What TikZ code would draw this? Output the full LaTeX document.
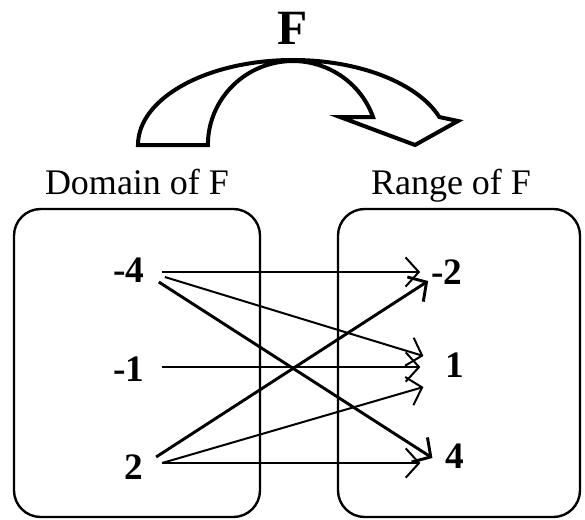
\documentclass[tikz,border=0pt]{standalone}
\usepackage{fontspec}
\setmainfont{Liberation Serif}
\usetikzlibrary{arrows.meta,calc}
\begin{document}
\begin{tikzpicture}[x=0.75pt,y=0.75pt,>={Straight Barb[length=10pt,width=22pt]},
  num/.style={font=\fontsize{28}{28}\selectfont\bfseries,inner sep=0pt},
  lbl/.style={font=\fontsize{27}{27}\selectfont,inner sep=0pt,anchor=base},
  setbox/.style={line width=1.8pt,rounded corners=20pt},
  lnk/.style={->,line width=1.5pt},
  lnkb/.style={->,line width=2.2pt}]
 \useasboundingbox (0,0) rectangle (585,519);
 % the curved block arrow and its name
 \draw[line width=3pt,fill=white] (138,374) arc[start angle=180,end angle=19.2,x radius=155,y radius=85]
   -- (458,398) -- (415,374) -- (340,402) -- (373,402)
   arc[start angle=19.5,end angle=180,x radius=85,y radius=84] -- cycle;
 \node[font=\fontsize{37}{37}\selectfont\bfseries,inner sep=0pt] (fname) at (293,491) {F};
 % the two sets
 \node[lbl] (dom) at (137,325) {Domain of F};
 \node[lbl] (ran) at (451,325) {Range of F};
 \draw[setbox] (14,2) rectangle (260,310);
 \draw[setbox] (338,2) rectangle (580,310);
 \node[num] (dm4) at (129,249) {-4};
 \node[num] (dm1) at (129,150) {-1};
 \node[num] (d2) at (133.5,51.5) {2};
 \node[num] (rm2) at (447,246.5) {-2};
 \node[num] (r1) at (455,153.5) {1};
 \node[num] (r4) at (455,62.5) {4};
 % the mapping
 \draw[lnk] ($(dm4.east)+(17,-2)$) -- ($(rm2.west)+(-11,0.5)$);
 \draw[lnk] ($(dm4.east)+(20,-7)$) -- ($(r1.west)+(-22,9.5)$);
 \draw[lnkb] ($(dm4.east)+(14,-12)$) -- ($(r4.west)+(-13,-1.5)$);
 \draw[lnk] ($(dm1.east)+(17,2)$) -- ($(r1.west)+(-25,-1.5)$);
 \draw[lnkb] ($(d2.east)+(13,10.5)$) -- ($(rm2.west)+(-3,-8.5)$);
 \draw[lnk] ($(d2.east)+(19,4.5)$) -- ($(r1.west)+(-22,-21.5)$);
 \draw[lnk] ($(d2.east)+(19,4.5)$) -- ($(r4.west)+(-25,-6.5)$);
\end{tikzpicture}
\end{document}
